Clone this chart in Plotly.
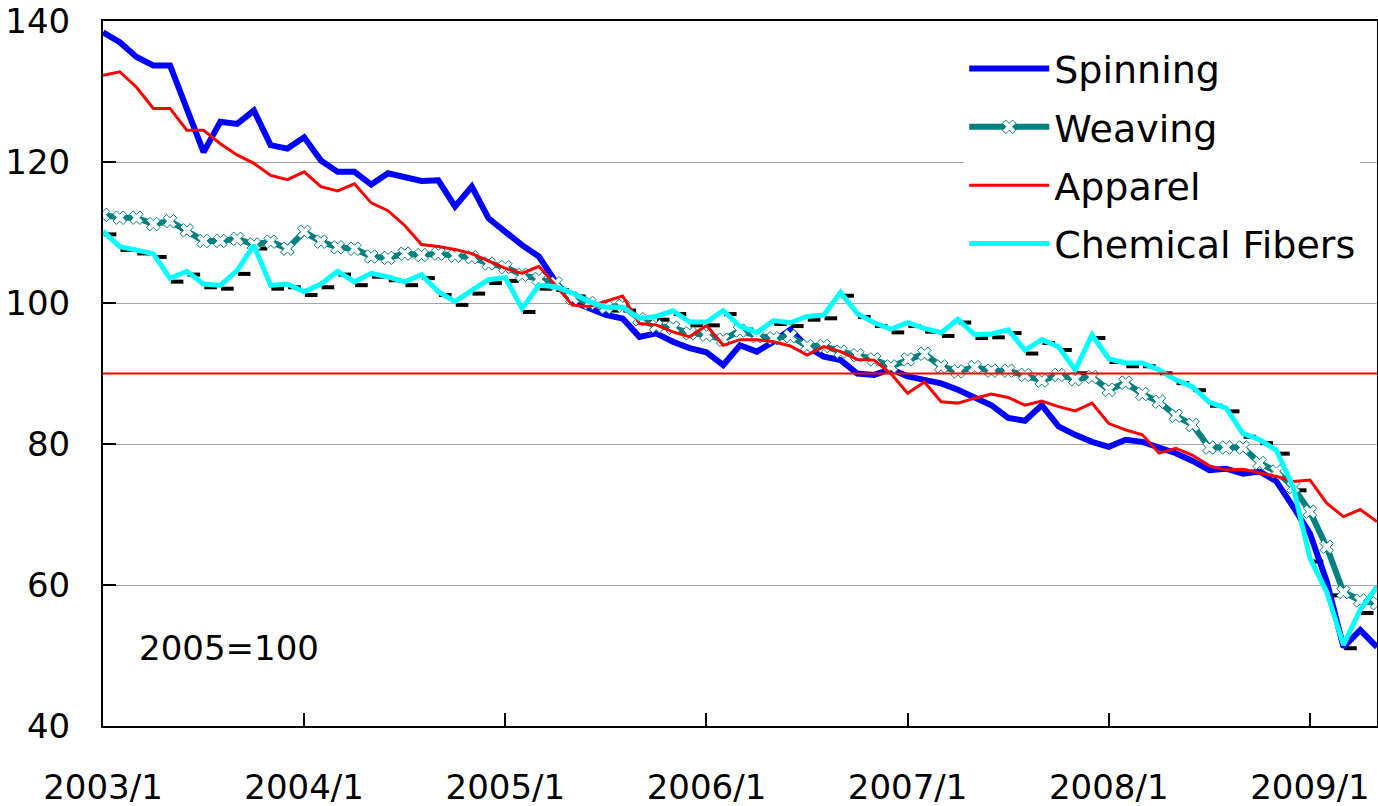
import plotly.graph_objects as go

months = list(range(77))
tick_vals = [0, 12, 24, 36, 48, 60, 72]
tick_text = ["2003/1", "2004/1", "2005/1", "2006/1", "2007/1", "2008/1", "2009/1"]

spinning = [138.4, 137.0, 134.9, 133.7, 133.7, 127.5, 121.4, 125.7, 125.4, 127.3,
            122.4, 121.9, 123.5, 120.2, 118.6, 118.6, 116.8, 118.4, 117.9, 117.3,
            117.4, 113.7, 116.5, 112.0, 110.1, 108.2, 106.6, 103.0, 100.2, 99.2,
            98.3, 97.8, 95.2, 95.7, 94.5, 93.6, 93.0, 91.2, 94.0, 93.1,
            94.5, 96.2, 93.8, 92.4, 91.9, 90.0, 89.8, 90.6, 89.6, 89.1,
            88.6, 87.7, 86.7, 85.5, 83.7, 83.3, 85.5, 82.5, 81.3, 80.3,
            79.6, 80.6, 80.3, 79.6, 78.7, 77.6, 76.3, 76.5, 75.8, 76.1,
            74.7, 71.1, 67.3, 60.5, 51.2, 53.6, 51.2]

weaving = [112.5, 112.1, 112.1, 111.2, 111.6, 110.3, 108.8, 108.8, 109.1, 108.3,
           108.7, 107.7, 110.1, 108.7, 107.9, 107.7, 106.6, 106.4, 107.0, 106.8,
           107.0, 106.7, 106.5, 105.6, 105.1, 104.0, 103.4, 102.8, 100.7, 100.0,
           99.4, 99.6, 97.7, 96.7, 96.5, 95.7, 95.5, 94.8, 96.1, 95.3,
           95.0, 95.3, 93.9, 93.9, 93.1, 92.6, 92.0, 91.0, 92.0, 92.8,
           91.0, 90.3, 90.9, 90.4, 90.4, 89.8, 89.0, 89.8, 89.2, 89.5,
           87.7, 88.7, 87.1, 86.0, 84.0, 82.7, 79.5, 79.5, 79.5, 77.3,
           76.1, 73.9, 70.4, 65.4, 59.0, 57.8, 57.4]

apparel = [132.3, 132.8, 130.6, 127.6, 127.6, 124.5, 124.5, 122.6, 121.0, 119.8,
           118.1, 117.5, 118.6, 116.5, 115.9, 116.9, 114.2, 113.1, 111.0, 108.3,
           108.0, 107.6, 107.0, 105.9, 104.9, 104.2, 105.2, 102.5, 99.7, 99.5,
           100.2, 101.0, 97.1, 96.9, 95.9, 95.2, 96.8, 94.0, 94.8, 94.8,
           94.5, 93.9, 92.6, 93.8, 93.1, 92.0, 91.9, 90.0, 87.2, 88.8,
           86.0, 85.8, 86.5, 87.1, 86.6, 85.5, 86.1, 85.3, 84.7, 85.8,
           82.9, 82.0, 81.3, 78.7, 79.4, 78.4, 76.9, 76.3, 76.4, 75.9,
           75.4, 74.7, 74.9, 71.6, 69.7, 70.7, 69.0]

chemical = [110.2, 108.0, 107.5, 107.0, 103.5, 104.5, 102.7, 102.5, 104.6, 108.2,
            102.5, 102.7, 101.6, 102.7, 104.5, 103.0, 104.2, 103.7, 103.0, 104.0,
            101.6, 100.2, 101.8, 103.3, 103.6, 99.2, 102.5, 102.3, 101.4, 100.2,
            99.4, 99.4, 97.8, 98.1, 98.9, 97.3, 97.3, 98.9, 96.7, 95.8,
            97.5, 97.2, 98.1, 98.3, 101.5, 98.5, 97.2, 96.3, 97.2, 96.4,
            95.8, 97.7, 95.5, 95.6, 96.2, 93.3, 94.8, 93.8, 90.5, 95.5,
            92.1, 91.5, 91.5, 90.5, 89.1, 88.1, 85.9, 85.1, 81.5, 80.6,
            79.1, 73.9, 63.8, 59.0, 51.5, 56.5, 59.8]

FONT = "DejaVu Sans"

fig = go.Figure()

# offset black dash markers (drawn on a slightly shifted overlay axis)
fig.add_trace(go.Scatter(
    x=months, y=chemical, mode="markers", showlegend=False, hoverinfo="skip",
    marker=dict(symbol="line-ew", size=9, line=dict(color="black", width=4)),
    xaxis="x2", yaxis="y2"))

fig.add_trace(go.Scatter(
    x=months, y=spinning, name="Spinning", mode="lines", legendgroup="a",
    line=dict(color="#0000FF", width=6), xaxis="x3", yaxis="y3"))
fig.add_trace(go.Scatter(
    x=months, y=weaving, name="Weaving", mode="lines+markers", legendgroup="b",
    line=dict(color="#008080", width=6),
    marker=dict(symbol="x", size=12, color="white", line=dict(color="#008080", width=1)),
    xaxis="x3", yaxis="y3"))
fig.add_trace(go.Scatter(
    x=months, y=apparel, name="Apparel", mode="lines", legendgroup="c",
    line=dict(color="#FF0000", width=3), xaxis="x3", yaxis="y3"))
fig.add_trace(go.Scatter(
    x=months, y=chemical, name="Chemical Fibers", mode="lines", legendgroup="d",
    line=dict(color="#00FFFF", width=5), xaxis="x3", yaxis="y3"))

fig.add_shape(type="line", xref="paper", x0=0, x1=1, yref="y", y0=90, y1=90,
              line=dict(color="#FF0000", width=2), layer="above")

fig.add_annotation(text="2005=100", xref="paper", yref="paper", x=0.027, y=0.11,
                   xanchor="left", yanchor="middle", showarrow=False,
                   font=dict(family=FONT, size=34, color="black"))

fig.update_layout(
    width=1378, height=806,
    margin=dict(l=103, r=1, t=21, b=80),
    paper_bgcolor="white", plot_bgcolor="white",
    font=dict(family=FONT, size=34, color="black"),
    xaxis=dict(range=[0, 76], tickvals=tick_vals, ticktext=tick_text,
               showgrid=False, zeroline=False, showline=True, mirror=True,
               linecolor="black", linewidth=2, ticks="inside", ticklen=13,
               tickwidth=1.5, tickcolor="black", ticklabelstandoff=30,
               automargin=False, ticklabeloverflow="allow",
               tickfont=dict(family=FONT, size=34)),
    yaxis=dict(range=[40, 140], tickvals=[40, 60, 80, 100, 120, 140],
               showgrid=True, gridcolor="#a6a6a6", gridwidth=1, zeroline=False,
               showline=True, mirror=True, linecolor="black", linewidth=2,
               ticks="inside", ticklen=13, tickwidth=1.5, tickcolor="black",
               ticklabelstandoff=24, automargin=False, ticklabeloverflow="allow",
               tickfont=dict(family=FONT, size=34)),
    xaxis2=dict(overlaying="x", range=[-0.42, 75.58], visible=False),
    yaxis2=dict(overlaying="y", range=[40.47, 140.47], visible=False),
    xaxis3=dict(overlaying="x", range=[0, 76], visible=False),
    yaxis3=dict(overlaying="y", range=[40, 140], visible=False),
    legend=dict(x=0.676, y=0.977, xanchor="left", yanchor="top",
                bgcolor="white", borderwidth=0, tracegroupgap=6,
                font=dict(family=FONT, size=38, color="black"),
                itemwidth=80),
    showlegend=True,
)

fig.write_html(
    "out.html",
    config={"displayModeBar": False},
    post_script="document.body.style.margin='0';document.body.style.overflow='hidden';",
)
